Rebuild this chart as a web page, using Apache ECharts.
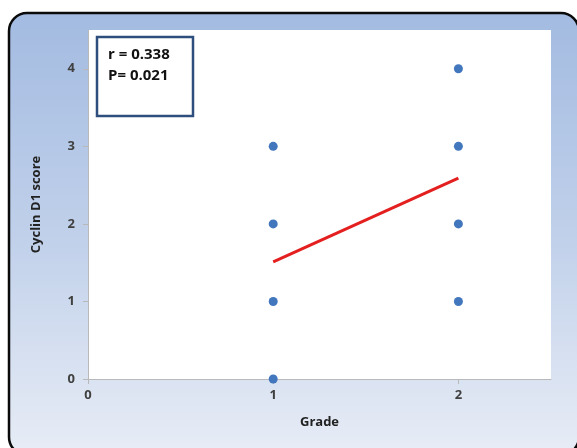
<!DOCTYPE html>
<html>
<head>
<meta charset="utf-8">
<script src="https://cdn.jsdelivr.net/npm/echarts@6/dist/echarts.min.js"></script>
<style>
html,body{margin:0;padding:0;background:#ffffff;}
#chart{width:577px;height:448px;}
</style>
</head>
<body>
<div id="chart"></div>
<script>
// Data
var grade1Scores = [0, 1, 2, 3];
var grade2Scores = [1, 2, 3, 4];
var gradeValues = [1, 2];
var fitLine = [[1, 1.51], [2, 2.59]];
var xTicks = [0, 1, 2];
var yTicks = [0, 1, 2, 3, 4];
var statsText = ['r = 0.338', 'P= 0.021'];

var points = [];
grade1Scores.forEach(function (v) { points.push([gradeValues[0], v]); });
grade2Scores.forEach(function (v) { points.push([gradeValues[1], v]); });

var chart = echarts.init(document.getElementById('chart'));
var font = '"Open Sans", "Liberation Sans", sans-serif';
chart.setOption({
  animation: false,
  graphic: [
    {
      type: 'rect', z: -10, silent: true,
      shape: { x: 9, y: 13, width: 570, height: 442, r: 18 },
      style: {
        fill: new echarts.graphic.LinearGradient(0, 0, 0, 1, [
          { offset: 0, color: '#a3bbe1' },
          { offset: 0.5, color: '#c0d0ea' },
          { offset: 1, color: '#e8edf6' }
        ]),
        stroke: '#0a0a0a', lineWidth: 2.5
      }
    },
    {
      type: 'rect', z: 10, silent: true,
      shape: { x: 97, y: 37, width: 96, height: 79 },
      style: { fill: '#ffffff', stroke: '#2e4f7d', lineWidth: 2.5 }
    },
    {
      type: 'text', z: 11, silent: true,
      left: 108, top: 44,
      style: {
        text: statsText.join('\n'),
        font: 'bold 15px ' + font,
        fill: '#111111',
        lineHeight: 21
      }
    }
  ],
  grid: {
    left: 88, right: 26, top: 30, bottom: 69,
    show: true, backgroundColor: '#ffffff', borderWidth: 0
  },
  xAxis: {
    type: 'value', min: 0, max: 2.5, interval: 1,
    name: 'Grade', nameLocation: 'middle', nameGap: 37,
    nameTextStyle: { fontFamily: font, fontWeight: 'bold', fontSize: 13, color: '#222222' },
    axisLine: { show: true, lineStyle: { color: '#b9b9b9', width: 1 } },
    axisTick: { show: true, length: 5, lineStyle: { color: '#b9b9b9' }, customValues: xTicks },
    axisLabel: {
      margin: 10, fontFamily: font, fontWeight: 'bold', fontSize: 13, color: '#404040',
      customValues: xTicks
    },
    splitLine: { show: false }
  },
  yAxis: {
    type: 'value', min: 0, max: 4.5, interval: 1,
    name: 'Cyclin D1 score', nameLocation: 'middle', nameGap: 45, nameRotate: 90,
    nameTextStyle: { fontFamily: font, fontWeight: 'bold', fontSize: 13, color: '#222222' },
    axisLine: { show: true, lineStyle: { color: '#b9b9b9', width: 1 } },
    axisTick: { show: true, length: 5, lineStyle: { color: '#b9b9b9' }, customValues: yTicks },
    axisLabel: {
      margin: 13, fontFamily: font, fontWeight: 'bold', fontSize: 13, color: '#404040',
      customValues: yTicks
    },
    splitLine: { show: false }
  },
  series: [
    {
      type: 'scatter', data: points, symbolSize: 9,
      itemStyle: { color: '#4277bd', opacity: 1 }
    },
    {
      type: 'line', data: fitLine, symbol: 'none',
      lineStyle: { color: '#e41f1f', width: 3 }
    }
  ]
});
</script>
</body>
</html>
